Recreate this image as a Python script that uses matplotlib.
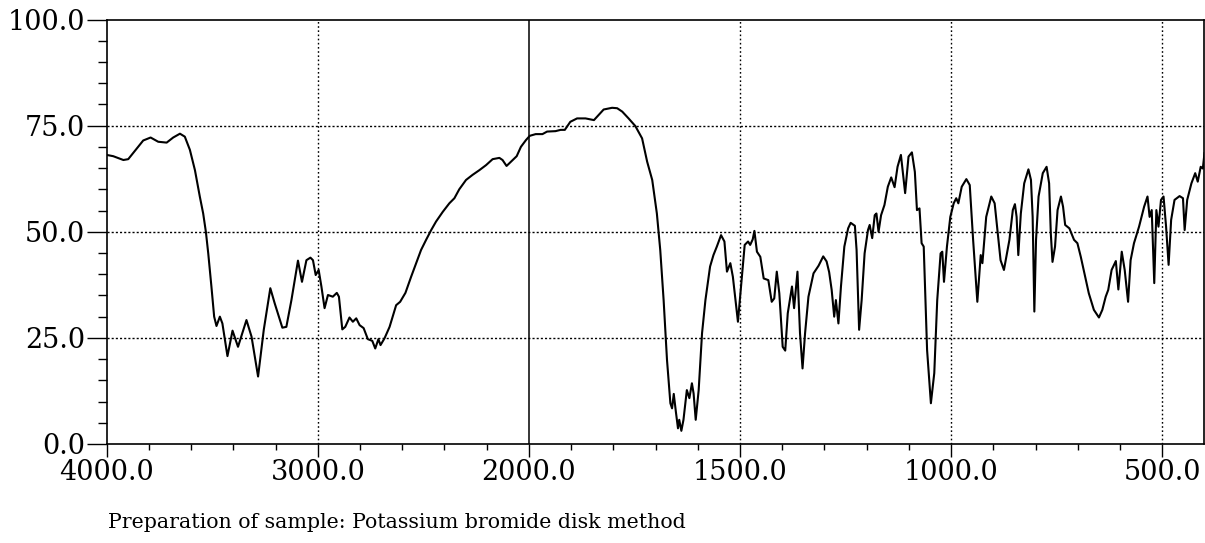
import numpy as np
import matplotlib
matplotlib.use('Agg')
import matplotlib.pyplot as plt
from matplotlib.ticker import FixedLocator, FormatStrFormatter

# wavenumber [cm-1] and transmittance [%]
wavenumber = [
    4000, 3969, 3921, 3898, 3858, 3827, 3792, 3756, 3716, 3685, 3653, 3630,
    3606, 3582, 3559, 3543, 3530, 3519, 3504, 3491, 3480, 3464, 3452, 3428,
    3404, 3378, 3338, 3314, 3283, 3256, 3225, 3204, 3168, 3149, 3125, 3094,
    3075, 3054, 3035, 3023, 3010, 2996, 2983, 2968, 2952, 2929, 2910, 2900,
    2884, 2870, 2850, 2834, 2818, 2802, 2783, 2763, 2742, 2728, 2713, 2703,
    2684, 2660, 2629, 2610, 2585, 2558, 2534, 2511, 2487, 2463, 2440, 2408,
    2377, 2353, 2330, 2298, 2267, 2235, 2203, 2172, 2140, 2125, 2106, 2085,
    2058, 2038, 2014, 1998, 1984, 1968, 1957, 1937, 1925, 1915, 1902, 1886,
    1866, 1846, 1835, 1823, 1803, 1791, 1779, 1764, 1748, 1732, 1720, 1708,
    1697, 1689, 1681, 1673, 1665, 1661, 1657, 1652, 1647, 1644, 1639, 1634,
    1626, 1620, 1614, 1610, 1605, 1598, 1590, 1582, 1571, 1563, 1555, 1545,
    1537, 1531, 1523, 1517, 1505, 1497, 1489, 1481, 1476, 1470, 1466, 1460,
    1452, 1444, 1433, 1425, 1419, 1413, 1407, 1399, 1393, 1387, 1377, 1372,
    1364, 1358, 1352, 1346, 1338, 1326, 1314, 1303, 1295, 1289, 1283, 1277,
    1273, 1267, 1261, 1253, 1244, 1238, 1228, 1224, 1218, 1212, 1205, 1197,
    1193, 1187, 1181, 1177, 1172, 1166, 1158, 1150, 1142, 1134, 1127, 1119,
    1109, 1101, 1093, 1086, 1081, 1075, 1070, 1065, 1057, 1048, 1040, 1033,
    1025, 1021, 1017, 1010, 1002, 994, 988, 983, 975, 964, 956, 948,
    938, 930, 926, 917, 905, 897, 883, 875, 862, 854, 849, 845,
    841, 835, 827, 817, 811, 807, 803, 799, 793, 783, 774, 768,
    764, 760, 754, 748, 740, 735, 730, 720, 709, 701, 693, 681,
    674, 662, 650, 642, 634, 628, 620, 610, 604, 596, 589, 581,
    575, 567, 555, 543, 535, 530, 525, 519, 514, 509, 503, 497,
    491, 485, 479, 471, 459, 451, 447, 441, 431, 422, 416, 409,
    404, 400]

transmittance = [
    68.1, 67.8, 66.9, 67.1, 69.6, 71.5, 72.2, 71.2, 71.0, 72.2, 73.1, 72.4,
    69.3, 64.5, 58.3, 54.3, 49.9, 44.9, 37.1, 30.0, 27.8, 30.0, 28.4, 20.7,
    26.7, 22.9, 29.2, 25.3, 15.9, 26.9, 36.7, 33.1, 27.4, 27.6, 33.9, 43.2,
    38.2, 43.3, 43.9, 43.3, 39.8, 41.0, 37.1, 32.0, 35.1, 34.7, 35.6, 34.7,
    27.0, 27.6, 29.8, 28.8, 29.6, 28.0, 27.3, 24.7, 24.3, 22.5, 24.7, 23.3,
    24.9, 27.6, 32.7, 33.5, 35.6, 39.4, 42.6, 45.7, 48.1, 50.4, 52.4, 54.7,
    56.7, 57.9, 60.0, 62.2, 63.4, 64.5, 65.7, 67.1, 67.4, 66.9, 65.5, 66.5,
    67.8, 70.0, 71.6, 72.6, 73.0, 73.0, 73.6, 73.7, 74.0, 74.0, 75.9, 76.7,
    76.7, 76.3, 77.5, 78.8, 79.2, 79.1, 78.3, 76.7, 74.9, 72.0, 66.5, 62.2,
    54.3, 45.7, 33.9, 19.8, 9.6, 8.4, 11.8, 7.6, 3.7, 5.7, 3.1, 5.7,
    12.7, 10.8, 14.3, 11.9, 5.7, 12.7, 26.1, 33.9, 41.8, 44.5, 46.5, 49.2,
    47.7, 40.6, 42.6, 39.4, 28.8, 37.9, 46.9, 47.7, 46.9, 48.2, 50.2, 45.3,
    44.1, 39.0, 38.6, 33.5, 34.3, 40.6, 35.5, 22.9, 22.0, 30.8, 37.1, 32.0,
    40.6, 26.1, 17.8, 26.1, 34.7, 40.2, 42.0, 44.2, 43.0, 40.5, 36.3, 30.0,
    33.9, 28.4, 37.1, 46.5, 50.8, 52.1, 51.4, 45.7, 26.9, 33.9, 44.9, 50.4,
    51.6, 48.5, 53.9, 54.3, 50.0, 53.9, 56.3, 60.6, 62.8, 60.5, 65.3, 68.1,
    59.1, 67.7, 68.7, 64.1, 55.1, 55.5, 47.3, 46.5, 22.1, 9.6, 16.7, 33.9,
    44.9, 45.3, 38.2, 46.5, 53.5, 56.7, 57.9, 56.7, 60.6, 62.4, 61.0, 48.1,
    33.5, 44.5, 42.6, 53.5, 58.3, 56.7, 43.3, 41.0, 48.1, 55.1, 56.5, 53.5,
    44.5, 54.3, 61.4, 64.7, 62.2, 53.5, 31.2, 48.1, 58.3, 63.8, 65.3, 61.4,
    49.6, 42.9, 46.5, 55.1, 58.3, 55.9, 51.6, 50.8, 48.1, 47.3, 44.1, 38.6,
    35.5, 31.6, 29.8, 31.6, 34.7, 36.3, 41.0, 43.1, 36.4, 45.3, 41.0, 33.5,
    43.3, 47.3, 51.2, 55.9, 58.3, 53.5, 55.1, 37.9, 55.1, 51.2, 57.5, 58.3,
    51.2, 42.2, 52.8, 57.5, 58.4, 57.9, 50.4, 57.5, 61.4, 63.8, 61.8, 65.3,
    64.9, 68.5]

major_x = [4000, 3000, 2000, 1500, 1000, 500]
minor_x = [3800, 3600, 3400, 3200, 2800, 2600, 2400, 2200,
           1900, 1800, 1700, 1600, 1400, 1300, 1200, 1100,
           900, 800, 700, 600]
major_y = [0, 25, 50, 75, 100]
grid_x = [3000, 1500, 1000, 500]
grid_y = [25, 50, 75]
caption = 'Preparation of sample: Potassium bromide disk method'


# chart paper is compressed by a factor two above 2000 cm-1
def forward(w):
    w = np.asarray(w, dtype=float)
    return np.where(w >= 2000, w, 2000 + (w - 2000) * 2)


def inverse(p):
    p = np.asarray(p, dtype=float)
    return np.where(p >= 2000, p, 2000 + (p - 2000) / 2)


plt.rcParams['font.family'] = ['DejaVu Serif']

fig = plt.figure(figsize=(12.05, 5.43), dpi=100)
W, H = 1205., 543.
ax = fig.add_axes([106.7 / W, (H - 444) / H, (1204.5 - 106.7) / W, (444 - 19.5) / H])
ax.set_xscale('function', functions=(forward, inverse))

ax.plot(wavenumber, transmittance, color='black', lw=1.5, zorder=3)

for g in grid_y:
    ax.axhline(g, color='black', lw=1.0, ls=(0, (1.5, 1.5)), zorder=1)
for g in grid_x:
    ax.axvline(g, color='black', lw=1.0, ls=(0, (1.2, 1.8)), zorder=1)
ax.axvline(2000, color='black', lw=1.1, zorder=1)

ax.set_xlim(4000, 400)
ax.set_ylim(0, 100)

ax.xaxis.set_major_locator(FixedLocator(major_x))
ax.xaxis.set_minor_locator(FixedLocator(minor_x))
ax.yaxis.set_major_locator(FixedLocator(major_y))
ax.yaxis.set_minor_locator(FixedLocator(np.arange(0, 101, 5)))
ax.xaxis.set_major_formatter(FormatStrFormatter('%.1f'))
ax.yaxis.set_major_formatter(FormatStrFormatter('%.1f'))

ax.tick_params(axis='x', which='major', direction='out', length=9, width=1.0,
               labelsize=19.5, pad=2)
ax.tick_params(axis='x', which='minor', direction='out', length=4, width=1.0)
ax.tick_params(axis='y', which='major', direction='out', length=14.5, width=1.0,
               labelsize=19.5, pad=1)
ax.tick_params(axis='y', which='minor', direction='out', length=6.5, width=1.0)

for s in ax.spines.values():
    s.set_linewidth(1.2)

fig.text(108 / W, 1 - 522 / H, caption, fontsize=14.8, ha='left', va='center')

fig.savefig('out.png', dpi=100)
plt.close(fig)
